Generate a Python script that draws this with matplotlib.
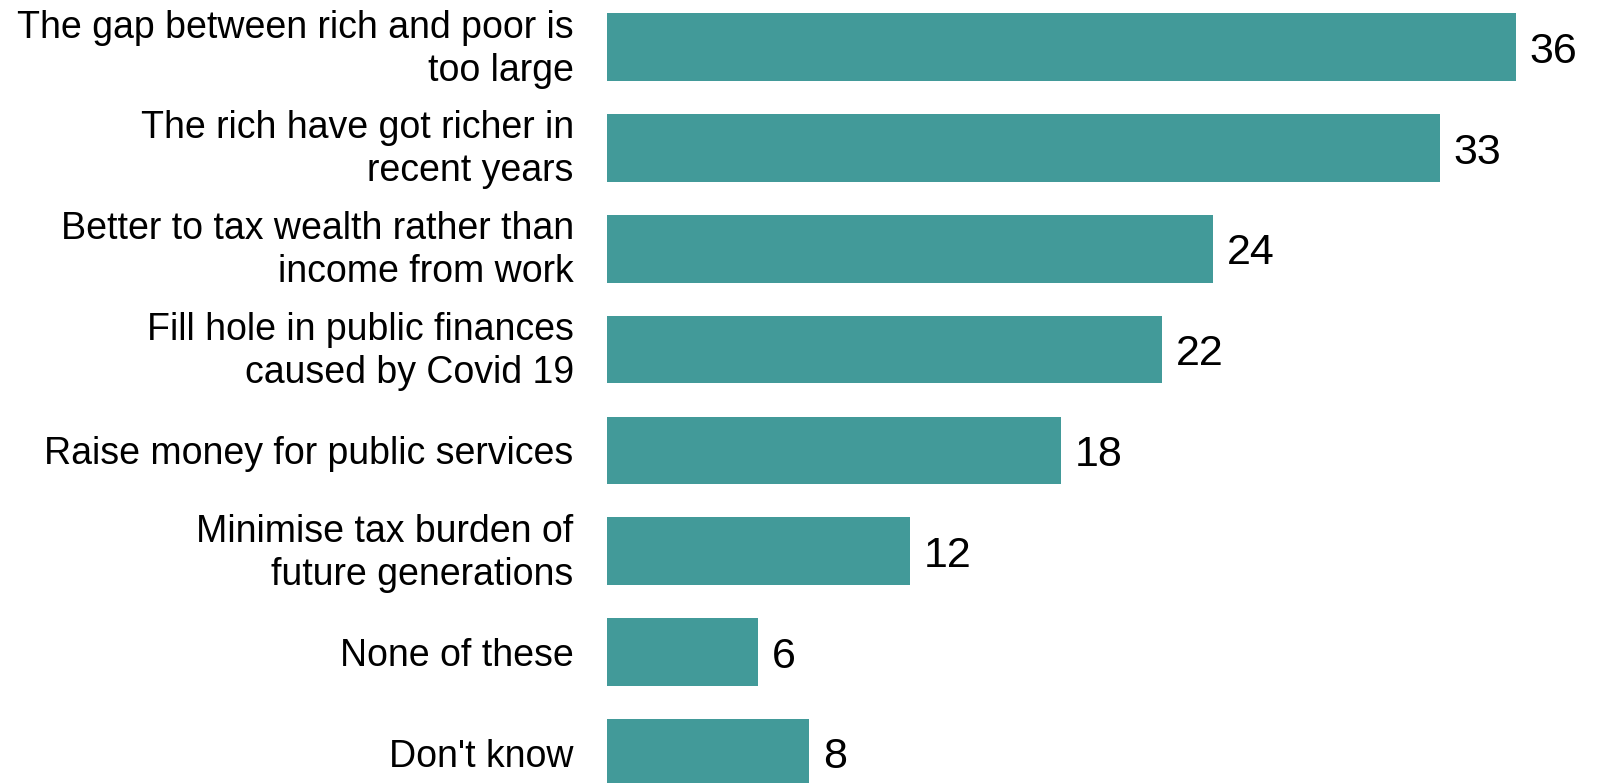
import matplotlib
matplotlib.use("Agg")
import matplotlib.pyplot as plt
from matplotlib.transforms import ScaledTranslation

categories = [
    "The gap between rich and poor is\ntoo large",
    "The rich have got richer in\nrecent years",
    "Better to tax wealth rather than\nincome from work",
    "Fill hole in public finances\ncaused by Covid 19",
    "Raise money for public services",
    "Minimise tax burden of\nfuture generations",
    "None of these",
    "Don't know",
]
values = [36, 33, 24, 22, 18, 12, 6, 8]

bar_color = "#429A99"

plt.rcParams["font.family"] = ["Liberation Sans", "DejaVu Sans"]

W, H = 1602, 783
fig = plt.figure(figsize=(W / 100, H / 100), dpi=100)
left_px = 607
ax = fig.add_axes([left_px / W, 0, 1 - left_px / W, 1])

px_per_unit = 25.24
ax.set_xlim(0, (W - left_px) / px_per_unit)
pitch = 100.8
first_center = 47.25
ax.set_ylim((H - first_center) / pitch, -first_center / pitch)

ypos = list(range(len(categories)))
ax.barh(ypos, values, height=0.67, color=bar_color)

for y, v in zip(ypos, values):
    ax.text(v + 0.55, y, f"{v}", va="center_baseline", ha="left",
            fontsize=31, color="black")

ax.set_yticks(ypos)
ax.set_yticklabels(categories, fontsize=27, linespacing=1.25)
ax.tick_params(axis="y", length=0, pad=24)
# nudge two-line labels up a little so the block sits centred on its bar
lift = ScaledTranslation(0, 4 / 72, fig.dpi_scale_trans)
for lbl in ax.get_yticklabels():
    if "\n" in lbl.get_text():
        lbl.set_transform(lbl.get_transform() + lift)
ax.set_xticks([])
for s in ax.spines.values():
    s.set_visible(False)

fig.savefig("out.png", dpi=100)
